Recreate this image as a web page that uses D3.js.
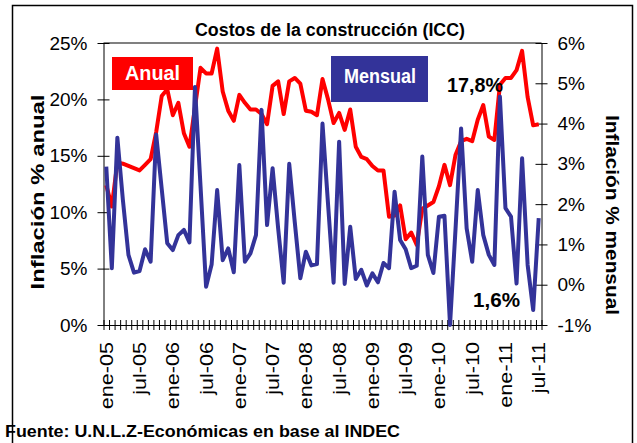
<!DOCTYPE html>
<html>
<head>
<meta charset="utf-8">
<script src="https://cdn.jsdelivr.net/npm/d3@7"></script>
<style>
  body { margin: 0; background: #fff; }
  svg { display: block; font-family: Arial, "Liberation Sans", sans-serif; }
</style>
</head>
<body>
<script>
// inflacion anual del ICC (%), eje izquierdo
const anual = [12.4, 10.5, 14.4, 14.3, 14.1, 13.9, 13.7, 14.2, 14.7, 17.1, 20.3, 20.9,
  18.6, 19.7, 17.0, 15.8, 19.3, 22.8, 22.3, 22.3, 24.5, 20.7, 19.0, 18.1,
  20.4, 19.7, 19.1, 19.1, 18.7, 17.8, 21.2, 21.6, 18.7, 21.6, 21.9, 21.4,
  19.0, 18.9, 18.6, 21.8, 20.0, 17.9, 18.8, 17.3, 19.1, 15.8, 14.9, 14.7,
  14.1, 13.7, 13.7, 9.6, 9.7, 10.6, 7.6, 8.2, 7.1, 10.3, 10.6, 10.9,
  12.3, 14.2, 12.4, 15.1, 16.3, 16.5, 16.3, 18.2, 19.5, 16.7, 16.4, 21.3,
  21.9, 21.9, 22.6, 24.3, 20.2, 17.7, 17.8]

// inflacion mensual (%), eje derecho
const mensual = [2.93, 0.41, 3.65, 2.1, 0.74, 0.30, 0.34, 0.88, 0.57, 3.73, 2.38, 1.03,
  0.86, 1.23, 1.36, 1.05, 4.91, 2.45, -0.05, 0.5, 2.35, 0.61, 0.90, 0.31,
  2.97, 0.57, 0.78, 1.23, 4.34, 1.48, 2.89, 1.4, 0.05, 3.0, 1.55, 0.16,
  0.82, 0.48, 0.51, 4.0, 2.0, 0.05, 3.55, 0.02, 1.44, 0.14, 0.37, -0.02,
  0.28, 0.06, 0.54, 0.41, 2.31, 1.11, 0.88, 0.41, 0.47, 3.18, 0.74, 0.29,
  1.69, 1.71, -1.0, 1.4, 3.88, 1.40, 0.57, 2.35, 1.23, 0.74, 0.49, 4.67,
  1.90, 1.69, 0.03, 3.14, 0.49, -0.63, 1.65]

const meses = ["ene", "feb", "mar", "abr", "may", "jun", "jul", "ago", "sep", "oct", "nov", "dic"]
const anios = ["05", "06", "07", "08", "09", "10", "11"]
const categorias = anios.flatMap(a => meses.map(m => `${m}-${a}`)).slice(0, anual.length)

const etiquetas = ["ene-05", "jul-05", "ene-06", "jul-06", "ene-07", "jul-07", "ene-08",
  "jul-08", "ene-09", "jul-09", "ene-10", "jul-10", "ene-11", "jul-11"]
const ticksAnual = [0, 5, 10, 15, 20, 25]
const ticksMensual = [-1, 0, 1, 2, 3, 4, 5, 6]

const width = 637
const height = 443
const plotL = 103.5, plotR = 541.5, plotT = 43, plotB = 325

const svg = d3.select('body').append('svg')
  .attr('width', width)
  .attr('height', height)

// marco
svg.append('rect')
  .attr('x', 12.5).attr('y', 5.5)
  .attr('width', 620).attr('height', 470)
  .attr('fill', 'none').attr('stroke', '#000').attr('stroke-width', 1.5)

const x = d3.scaleBand().domain(categorias).range([plotL, plotR])
const xTicks = d3.scaleLinear().domain([0, categorias.length]).range([plotL, plotR])
const yL = d3.scaleLinear().domain([0, 25]).range([plotB, plotT])
const yR = d3.scaleLinear().domain([-1, 6]).range([plotB, plotT])
const cx = d => x(d) + x.bandwidth() / 2

// borde superior gris del area
svg.append('line')
  .attr('x1', plotL).attr('x2', plotR).attr('y1', plotT).attr('y2', plotT)
  .attr('stroke', '#808080').attr('stroke-width', 2)

// eje izquierdo
const axL = svg.append('g')
  .attr('transform', `translate(${plotL},0)`)
  .call(d3.axisLeft(yL).tickValues(ticksAnual).tickFormat(d => d + '%')
    .tickSizeInner(6).tickSizeOuter(0).tickPadding(10))
axL.selectAll('.tick line').attr('x1', 6)
axL.selectAll('text').attr('font-size', 19).attr('fill', '#000')
axL.attr('font-family', null)

// eje derecho
const axR = svg.append('g')
  .attr('transform', `translate(${plotR},0)`)
  .call(d3.axisRight(yR).tickValues(ticksMensual).tickFormat(d => d + '%')
    .tickSizeInner(6).tickSizeOuter(0).tickPadding(10))
axR.selectAll('.tick line').attr('x1', -6)
axR.selectAll('text').attr('font-size', 19).attr('fill', '#000')
axR.attr('font-family', null)

// eje x: marcas en cada mes
const axX = svg.append('g')
  .attr('transform', `translate(0,${plotB})`)
  .call(d3.axisBottom(xTicks).tickValues(d3.range(categorias.length + 1))
    .tickFormat('').tickSizeInner(5).tickSizeOuter(0))
axX.selectAll('.tick line').attr('y1', -5)

// etiquetas x rotadas
svg.append('g').selectAll('text')
  .data(etiquetas)
  .enter().append('text')
  .attr('transform', d => `translate(${cx(d) + 6.5},342) rotate(-90) scale(1.2,1)`)
  .attr('text-anchor', 'end')
  .attr('font-size', 18)
  .text(d => d)

// series
const lineAnual = d3.line()
  .x((d, i) => cx(categorias[i]))
  .y(d => yL(d))
const lineMensual = d3.line()
  .x((d, i) => cx(categorias[i]))
  .y(d => yR(d))

svg.append('path')
  .datum(anual)
  .attr('d', lineAnual)
  .attr('fill', 'none').attr('stroke', '#ff0000')
  .attr('stroke-width', 4).attr('stroke-linejoin', 'round')

svg.append('path')
  .datum(mensual)
  .attr('d', lineMensual)
  .attr('fill', 'none').attr('stroke', '#333399')
  .attr('stroke-width', 4).attr('stroke-linejoin', 'round')

// titulo
svg.append('text')
  .attr('x', 330).attr('y', 36)
  .attr('text-anchor', 'middle')
  .attr('font-size', 18).attr('font-weight', 'bold')
  .attr('textLength', 270).attr('lengthAdjust', 'spacingAndGlyphs')
  .text('Costos de la construcción (ICC)')

// leyendas
svg.append('rect').attr('x', 112).attr('y', 57).attr('width', 81).attr('height', 33).attr('fill', '#ff0000')
svg.append('text')
  .attr('x', 152.5).attr('y', 80)
  .attr('text-anchor', 'middle').attr('fill', '#fff')
  .attr('font-size', 21).attr('font-weight', 'bold')
  .attr('textLength', 55).attr('lengthAdjust', 'spacingAndGlyphs')
  .text('Anual')

svg.append('rect').attr('x', 331).attr('y', 56).attr('width', 97).attr('height', 46).attr('fill', '#333399')
svg.append('text')
  .attr('x', 380).attr('y', 83)
  .attr('text-anchor', 'middle').attr('fill', '#fff')
  .attr('font-size', 20).attr('font-weight', 'bold')
  .attr('textLength', 72).attr('lengthAdjust', 'spacingAndGlyphs')
  .text('Mensual')

// valores finales
svg.append('text')
  .attr('x', 503).attr('y', 92)
  .attr('text-anchor', 'end')
  .attr('font-size', 21).attr('font-weight', 'bold')
  .attr('textLength', 56).attr('lengthAdjust', 'spacingAndGlyphs')
  .text(String(anual[anual.length - 1]).replace('.', ',') + '%')

svg.append('text')
  .attr('x', 520).attr('y', 307)
  .attr('text-anchor', 'end')
  .attr('font-size', 21).attr('font-weight', 'bold')
  .attr('textLength', 47).attr('lengthAdjust', 'spacingAndGlyphs')
  .text('1,6%')

// titulos de ejes
svg.append('text')
  .attr('transform', 'translate(44,192) rotate(-90)')
  .attr('text-anchor', 'middle')
  .attr('font-size', 18).attr('font-weight', 'bold')
  .attr('textLength', 195).attr('lengthAdjust', 'spacingAndGlyphs')
  .text('Inflación % anual')

svg.append('text')
  .attr('transform', 'translate(606,215) rotate(90)')
  .attr('text-anchor', 'middle')
  .attr('font-size', 18).attr('font-weight', 'bold')
  .attr('textLength', 200).attr('lengthAdjust', 'spacingAndGlyphs')
  .text('Inflación % mensual')

// fuente
svg.append('text')
  .attr('x', 5).attr('y', 437)
  .attr('font-size', 16).attr('font-weight', 'bold')
  .attr('textLength', 395).attr('lengthAdjust', 'spacingAndGlyphs')
  .text('Fuente: U.N.L.Z-Económicas en base al INDEC')
</script>
</body>
</html>
